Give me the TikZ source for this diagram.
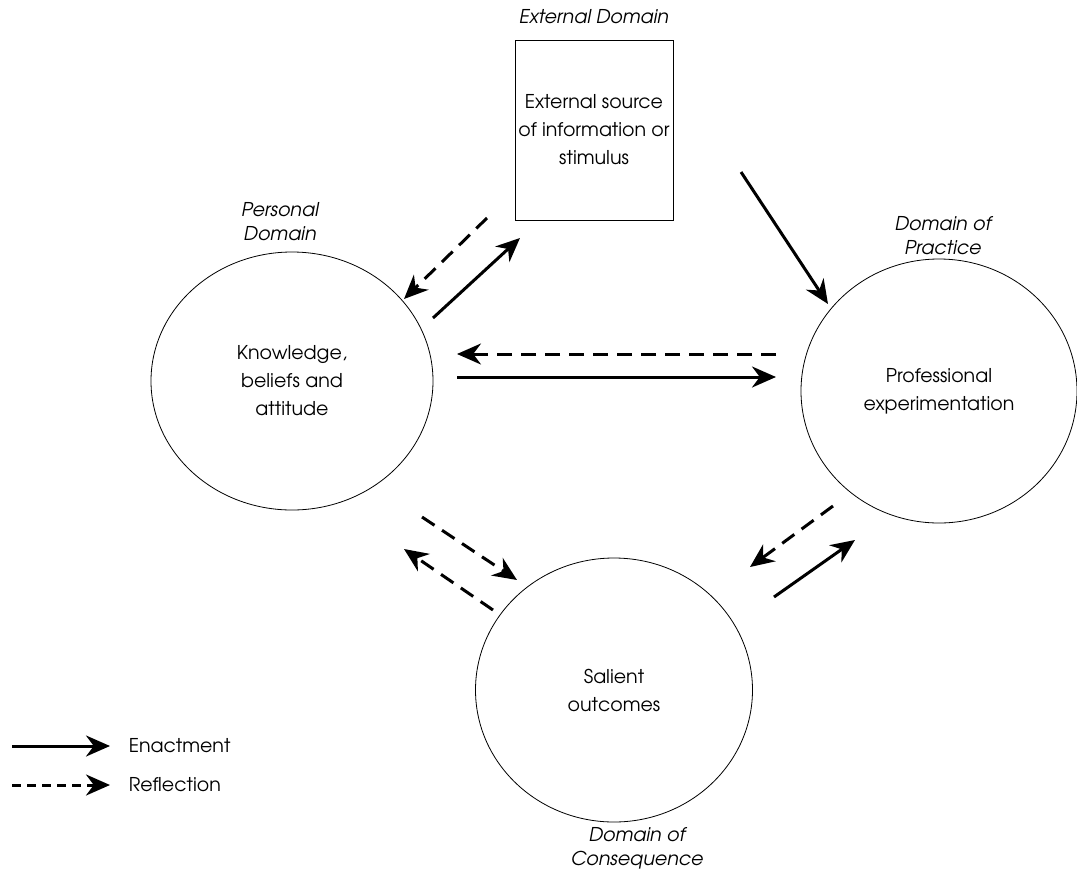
\documentclass[tikz,border=0pt]{standalone}
\usepackage{fontspec}
\setmainfont{texgyreadventor}[Extension=.otf, UprightFont=*-regular, ItalicFont=*-italic, BoldFont=*-bold]
\usetikzlibrary{arrows.meta, calc, positioning, shapes.geometric}

\begin{document}
\begin{tikzpicture}[x=1pt, y=-1pt, >={Stealth[length=24pt, width=21pt]},
    font=\fontsize{19}{28}\selectfont,
    domaincircle/.style={ellipse, draw, line width=0.8pt, align=center, inner sep=0pt},
    dlabel/.style={align=center, font=\fontsize{19}{24}\selectfont\itshape},
    enact/.style={->, line width=3pt},
    reflect/.style={->, line width=3pt, dash pattern=on 15pt off 9pt}]
  \useasboundingbox (0,0) rectangle (1077,879);
  % domains
  \node[draw, line width=0.8pt, minimum width=154pt, minimum height=180pt, align=center] (source) at (594,130) {External source\\of information or\\stimulus};
  \node[domaincircle, minimum width=282pt, minimum height=258pt] (knowledge) at (292,381) {Knowledge,\\beliefs and\\attitude};
  \node[domaincircle, minimum width=276pt, minimum height=264pt] (practice) at (939,391) {Professional\\experimentation};
  \node[domaincircle, minimum width=277pt, minimum height=264pt] (outcomes) at (614,690) {Salient\\outcomes};
  \node[dlabel] (extlab) at (594,17) {External Domain};
  \node[dlabel] (perslab) at (280,222) {Personal\\Domain};
  \node[dlabel] (praclab) at (943,236) {Domain of\\Practice};
  \node[dlabel] (conslab) at (637,848) {Domain of\\Consequence};
  % arrow ends
  \coordinate (ks1) at (487,218); \coordinate (ks2) at (404,299);
  \coordinate (ks3) at (433,318); \coordinate (ks4) at (520,238);
  \coordinate (sp1) at (741,172); \coordinate (sp2) at (828,304);
  \coordinate (kp1) at (776,354); \coordinate (kp2) at (457,354);
  \coordinate (kp3) at (457,377); \coordinate (kp4) at (776,377);
  \coordinate (ko1) at (422,517); \coordinate (ko2) at (517,580);
  \coordinate (ko3) at (493,610); \coordinate (ko4) at (404,549);
  \coordinate (po1) at (833,506); \coordinate (po2) at (750,567);
  \coordinate (po3) at (774,597); \coordinate (po4) at (855,540);
  \draw[reflect] (ks1) -- (ks2);
  \draw[enact] (ks3) -- (ks4);
  \draw[enact] (sp1) -- (sp2);
  \draw[reflect] (kp1) -- (kp2);
  \draw[enact] (kp3) -- (kp4);
  \draw[reflect] (ko1) -- (ko2);
  \draw[reflect] (ko3) -- (ko4);
  \draw[reflect] (po1) -- (po2);
  \draw[enact] (po3) -- (po4);
  % legend
  \coordinate (le1) at (12,746); \coordinate (le2) at (110,746);
  \coordinate (lr1) at (12,785); \coordinate (lr2) at (110,785);
  \draw[enact] (le1) -- (le2) node[right=14pt] (enactlab) {Enactment};
  \draw[reflect, dash pattern=on 9pt off 6pt] (lr1) -- (lr2) node[right=14pt] (reflab) {Reflection};
\end{tikzpicture}
\end{document}
